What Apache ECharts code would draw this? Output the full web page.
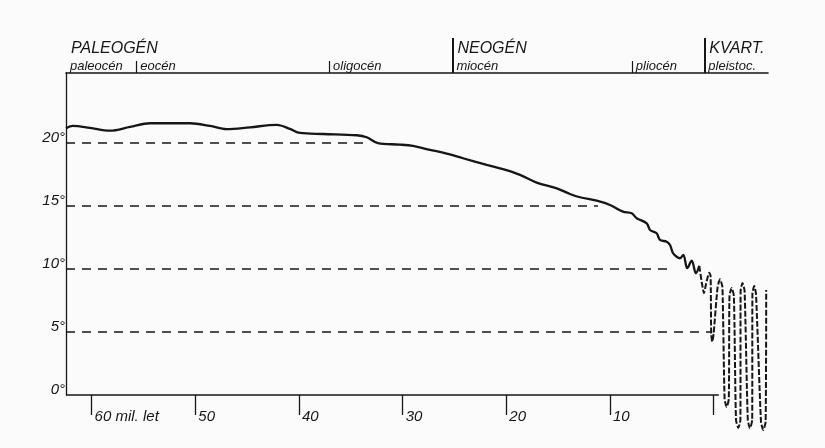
<!DOCTYPE html>
<html>
<head>
<meta charset="utf-8">
<script src="https://cdn.jsdelivr.net/npm/echarts@6/dist/echarts.min.js"></script>
<style>
  html, body { margin: 0; padding: 0; background: #fbfbfb; }
  #chart { width: 825px; height: 448px; }
</style>
</head>
<body>
<div id="chart"></div>
<script>
// Time scale in millions of years before present (read right to left)
const timeTicks = [60, 50, 40, 30, 20, 10, 0];
const timeLabels = [60, 50, 40, 30, 20, 10];
const timeStart = 62.47;   // left end of the time axis
const timeEnd = -0.5;      // where the drawn time axis line stops
const tempTicks = [0, 5, 10, 15, 20];

// Geological divisions: start of each epoch / era (mil. let)
const epochNames = ['paleocén', 'eocén', 'oligocén', 'miocén', 'pliocén', 'pleistoc.'];
const epochStarts = [62.47, 55.7, 37.1, 25.2, 7.9, 0.9];
const eraNames = ['PALEOGÉN', 'NEOGÉN', 'KVART.'];
const eraStarts = [62.47, 25.2, 0.9];

// Mean temperature, Paleogene to Pliocene
const mainTime = [62.47, 61.8, 60.16, 58.23, 56.3, 54.37, 50.51, 48.58, 46.97, 44.72, 42.15,
  40.87, 39.9, 37.68, 34.43, 33.47, 32.38, 30.26, 29.0, 27.36, 26.11, 24.18, 21.89, 20.32,
  18.68, 17.07, 15.14, 13.86, 12.9, 11.28, 10.0, 8.75, 7.91, 7.43, 6.46, 6.14, 5.5, 5.18,
  4.53, 4.21, 3.93, 3.57, 3.25, 2.93, 2.55, 2.12, 1.71, 1.39];
const mainTemp = [21.13, 21.31, 21.15, 20.93, 21.23, 21.52, 21.52, 21.31, 21.05, 21.2, 21.39,
  21.07, 20.75, 20.67, 20.57, 20.41, 19.94, 19.83, 19.72, 19.41, 19.19, 18.75, 18.22, 17.88,
  17.43, 16.82, 16.37, 15.92, 15.66, 15.39, 15.05, 14.52, 14.39, 14.0, 13.6, 13.07, 12.81,
  12.28, 12.14, 11.88, 11.25, 10.95, 10.83, 11.09, 10.04, 10.64, 9.64, 10.22];

// Pleistocene glacial / interglacial swings, on an expanded scale (thousand years)
const pleistKa = [1818, 1745, 1700, 1655, 1600, 1568, 1535, 1520, 1493, 1460, 1360, 1300,
  1240, 1185, 1133, 1080, 1063, 1008, 953, 900, 843, 790, 785, 738, 685, 605, 550, 495,
  490, 445, 400, 275, 218, 160, 145];
const pleistTemp = [10.22, 8.71, 8.06, 8.71, 9.43, 9.69, 9.43, 4.83, 4.22, 4.83, 8.55, 9.16,
  8.55, -0.32, -0.95, -0.32, 7.84, 8.48, 7.84, -1.98, -2.61, -1.98, 8.24, 8.87, 8.24, -1.98,
  -2.64, -1.98, 8.0, 8.63, 8.0, -2.14, -2.77, -2.14, 8.32];

// Dashed reference levels and where each one meets the curve
const guideLevels = [20, 15, 10, 5];
const guideEnds = [33.6, 11.16, 4.05, 0.16];

const INK = '#161616';
const FONT = 'Liberation Sans';
const T_MIN = -5.24, T_MAX = timeStart;

const pick = (names, starts) => v => {
  const i = starts.findIndex(s => Math.abs(s - v) < 0.01);
  return i >= 0 ? names[i] : '';
};

const chart = echarts.init(document.getElementById('chart'), null, { renderer: 'canvas' });

const guideLines = guideLevels.map((lv, i) => [
  { coord: [timeStart, lv] },
  { coord: [guideEnds[i], lv] }
]);
const baseLine = [
  { coord: [timeStart, 0], lineStyle: { type: 'solid', width: 1.7 } },
  { coord: [timeEnd, 0] }
];

chart.setOption({
  backgroundColor: '#fbfbfb',
  animation: false,
  grid: { left: 66, top: 73, right: 57, bottom: 53, outerBoundsMode: 'none' },
  xAxis: [
    {
      type: 'value', min: T_MIN, max: T_MAX, inverse: true, position: 'bottom',
      axisLine: { show: false, onZero: false },
      splitLine: { show: false },
      axisTick: { show: true, customValues: timeTicks, length: 20, lineStyle: { color: INK, width: 1.3 } },
      axisLabel: {
        customValues: timeLabels, align: 'left', margin: 14, padding: [0, 0, 0, 3],
        color: INK, fontSize: 15, fontStyle: 'italic', fontFamily: FONT,
        formatter: v => (v === 60 ? '60 mil. let' : String(v))
      }
    },
    {
      type: 'value', min: T_MIN, max: T_MAX, inverse: true, position: 'top',
      axisLine: { show: true, onZero: false, lineStyle: { color: INK, width: 1.6 } },
      splitLine: { show: false },
      axisTick: { show: true, customValues: [55.7, 37.1, 7.9], length: 12, lineStyle: { color: INK, width: 1.2 } },
      axisLabel: {
        customValues: epochStarts, align: 'left', margin: 0, padding: [0, 0, 0, 4],
        color: INK, fontSize: 13, fontStyle: 'italic', fontFamily: FONT,
        formatter: pick(epochNames, epochStarts)
      }
    },
    {
      type: 'value', min: T_MIN, max: T_MAX, inverse: true, position: 'top',
      axisLine: { show: false, onZero: false },
      splitLine: { show: false },
      axisTick: { show: true, customValues: [25.2, 0.9], length: 35, lineStyle: { color: INK, width: 2 } },
      axisLabel: {
        customValues: eraStarts, align: 'left', margin: 16, padding: [0, 0, 0, 5],
        color: INK, fontSize: 16, fontStyle: 'italic', fontFamily: FONT,
        formatter: pick(eraNames, eraStarts)
      }
    },
    {
      type: 'value', min: 100, max: 17650, inverse: true, show: false,
      axisLine: { onZero: false }, splitLine: { show: false }
    }
  ],
  yAxis: {
    type: 'value', min: 0, max: 25.5, position: 'left',
    axisLine: { show: true, onZero: false, lineStyle: { color: INK, width: 1.3 } },
    axisTick: { show: false },
    splitLine: { show: false },
    axisLabel: {
      customValues: tempTicks, margin: 1, verticalAlign: 'bottom', lineHeight: 10,
      color: INK, fontSize: 15, fontStyle: 'italic', fontFamily: FONT,
      formatter: v => v + '°'
    }
  },
  series: [
    {
      name: 'teplota',
      type: 'line',
      xAxisIndex: 0,
      clip: false,
      smooth: 0.35,
      symbol: 'none',
      lineStyle: { color: INK, width: 2.3 },
      data: mainTime.map((t, i) => [t, mainTemp[i]]),
      markLine: {
        silent: true,
        symbol: 'none',
        label: { show: false },
        lineStyle: { color: INK, width: 1.5, type: [9, 7] },
        data: guideLines.concat([baseLine])
      }
    },
    {
      name: 'pleistocén',
      type: 'line',
      xAxisIndex: 3,
      clip: false,
      smooth: 0.2,
      symbol: 'none',
      lineStyle: { color: INK, width: 2, type: [6, 2] },
      data: pleistKa.map((t, i) => [t, pleistTemp[i]])
    }
  ]
});
</script>
</body>
</html>
